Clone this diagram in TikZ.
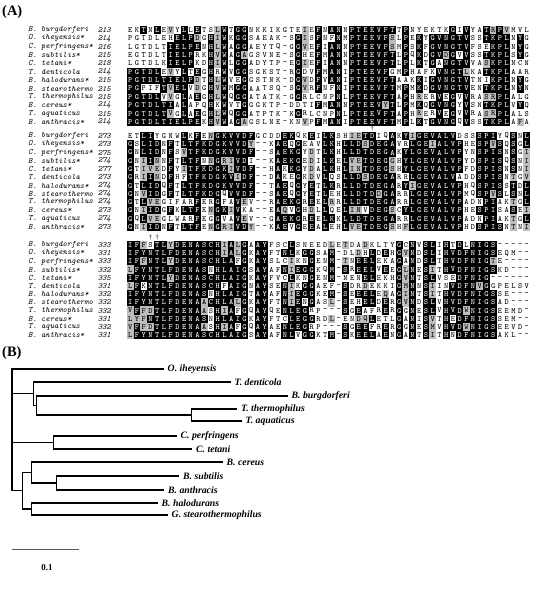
\documentclass[tikz,border=0pt]{standalone}
\usepackage{fontspec}
\setmainfont{Liberation Serif}
\usetikzlibrary{positioning}

\definecolor{boxgray}{gray}{0.74}

\newcommand\resfont{\ttfamily\fontsize{8}{8}\selectfont}
\newcommand\spfont{\ttfamily\itshape\fontsize{8.25}{8.25}\selectfont}
\newcommand\taxfont{\bfseries\itshape\fontsize{9.8}{9.8}\selectfont}
\newcommand\panelfont{\bfseries\fontsize{14.5}{14.5}\selectfont}

% one residue box: letter, shade code (K black, G gray, . none)
\newcount\rescol
\newcommand\rescell[2]{%
  \ifx K#2\node[resK] (\rowid-\the\rescol) at ({127+(\the\rescol-0.5)*6.72},\rowy) {#1};%
  \else\ifx G#2\node[resG] (\rowid-\the\rescol) at ({127+(\the\rescol-0.5)*6.72},\rowy) {#1};%
  \else\node[resW] (\rowid-\the\rescol) at ({127+(\the\rescol-0.5)*6.72},\rowy) {#1};%
  \fi\fi}
\def\seqwalk#1#2\relax#3#4\relax{%
  \advance\rescol by 1
  \rescell{#1}{#3}%
  \ifx\relax#2\relax\else\seqwalk#2\relax#4\relax\fi}
% id, row, species, first residue, residues, shading
\newcommand\alnrow[6]{%
  \def\rowid{#1}%
  \pgfmathsetmacro\rowy{\blocktop+#2*\rowgap}%
  \node[spname] (#1-sp) at (28,\rowy) {#3};
  \node[spnum] (#1-no) at (111,\rowy) {#4};
  \rescol=0
  \seqwalk#5\relax#6\relax}

\begin{document}
\begin{tikzpicture}[x=1bp,y=-1bp,
  spname/.style={anchor=west,inner sep=0pt,font=\spfont},
  spnum/.style={anchor=east,inner sep=0pt,font=\spfont},
  resW/.style={inner sep=0pt,minimum width=6.72bp,minimum height=8.3bp,font=\resfont},
  resK/.style={resW,fill=black,text=white,minimum width=6.95bp,minimum height=8.5bp},
  resG/.style={resW,fill=boxgray,minimum width=6.95bp,minimum height=8.5bp},
  sitemark/.style={anchor=south,inner sep=0pt,font=\fontsize{6.5}{6.5}\selectfont},
  panel/.style={anchor=west,inner sep=0pt,font=\panelfont},
  taxon/.style={anchor=west,inner xsep=4.5bp,inner ysep=1pt,font=\taxfont},
  branch/.style={line width=1.4bp,line cap=rect},
  scalebar/.style={line width=1bp,black!65}
]
\useasboundingbox (0,0) rectangle (536,589);

\node[panel] (panelA) at (2,12) {(A)};

% block 1
\def\blocktop{30}\def\rowgap{8.36}
\alnrow{a1}{0}{B. burgdorferi}{213}
 {EKTNLEVYLL ETSLWTGGNK KIKGTEIEFN ANNPTEEVFT TPNYEKTKGI VYATRPVMVL}
 {..K.K.G.K. K..GK.KK.. ......G.K. KK.KKKKKKK .K......K. K..KGKG...}
\alnrow{a2}{1}{O. iheyensis*}{214}
 {PGTDLEHELP DGHIWKGGSA EAK-SGISFN FNMPTEEVFS LPEKYGVNGT VSSTKPLNYG}
 {.......KKK G.KGK.KK.. .....KG.K. .K.KKKKKKG .K.K.KKKKK K..KKKK.K.}
\alnrow{a3}{2}{C. perfringens*}{216}
 {LGTDLTIELP ENHLWAGGAE YTQ-GGVEFI ANNPTEEVFS MPSKFGVNGT VFSEKPLNYG}
 {......KKKK K.KGK.KK.. .....KG.K. KK.KKKKKKG .K.K.KKKKK K...KKK.K.}
\alnrow{a4}{3}{B. subtilis*}{215}
 {EGTDLTIELP RKHVWAGAGS VNE-SGHEFM ANNPTEEVFT LPQKDGVDGV VSSTKPLSYG}
 {......KKKK ..KGK.KG.. .....K..K. KK.KKKKKKK .K.K.KKGK. K..KKKK.K.}
\alnrow{a5}{4}{C. tetani*}{218}
 {LGTDLKIELP KDHIWLGGAD YTP-EGIEFI ANNPTEEVFT LPLKTGANGT VVASKPLNCN}
 {......KKKK ..KGK.KK.. .....KG.K. KK.KKKKKKK .K.K.K.KKK K..GKKK...}
\alnrow{a6}{5}{T. denticola}{214}
 {PGTDLEVYLT EGHRWVGGSG KST-RGDVFM ANIPTEEVFG MPHAFKVNGT LKATKPLAAR}
 {KKKKK.G.K. K.K.K.KK.. .....K..K. KK.KKKKKK. .K....KKKK G..KKKK...}
\alnrow{a7}{6}{B. halodurans*}{215}
 {PGTDLTIELP DTHLWVEGGS TNK-DGVDFV ANIPTEEVFT AAKKIGVNGT VTNIKPLNYG}
 {KKKKKKKKKK G.KGK..K.. .....KG.K. KK.KKKKKKK ...K.KKKKK K...KKK.K.}
\alnrow{a8}{7}{B. stearothermo}{215}
 {PGPIFTVELV DGHVWMGGAA TSQ-SGVRFN FNIPTEEVFT MPMKDGVNGT VENTKPLNYN}
 {KK...KGKK. G.KGK.KK.. .....KG.K. .K.KKKKKKK .K.K.KKKKK K..KKKK.K.}
\alnrow{a9}{8}{T. thermophilus}{215}
 {PGTDLVVGLA EGHLWQGGAT ATK-GGRLCN PNLPTEEVFT APHRERVEGV VRASRPLALG}
 {KKKKK.G.K. K.KGK.KK.. .....K.... .K.KKKKKKK .K.G..K.K. K..GGKK...}
\alnrow{a10}{9}{B. cereus*}{214}
 {PGTDLTIALA PQHKWVTGGG KTP-DDTIFM ANNPTEEVYT LPMKQGVNGY VSNTKPLVYQ}
 {KKKKKKK.K. ..K.K..K.. ........K. KK.KKKKKGK .K.K.KKKK. K..KKKK.K.}
\alnrow{a11}{10}{T. aquaticus}{215}
 {PGTDLTVGLA EGHLWQGGAT PTK-KGRLCN PNLPTEEVFT APHRERVEGV VRASRPLALS}
 {KKKKKKG.K. K.KGK.KK.. .....K.... .K.KKKKKKK .K.G..K.K. K..GGKK...}
\alnrow{a12}{11}{B. anthracis*}{214}
 {PGTDLTIELP EKHVWAGAGS LNE-KNVPFM ANIPTEEVFT MPLKTGVNGQ VSSTKPLAFA}
 {KKKKKKKKKK K.KGK.KG.. ......G.K. KK.KKKKKKK .K.K.KKKK. K..KKKK.G.}

% block 2
\node[sitemark] (dag1) at (372.3,131.4) {†};
\def\blocktop{136}\def\rowgap{8.27}
\alnrow{b1}{0}{B. burgdorferi}{273}
 {ETLIYGNWLK FENGKVVDFG CDDEKQKEIL KSHIETDIQA KYIGEVALVD SSSPIYQSNL}
 {..KK....K. K.GKKKKKK. ...KK..K.K K..GGKK..K .KGKKKKKK. ..KKK..K.K}
\alnrow{b2}{1}{O. iheyensis*}{273}
 {GSLIDNFTLT FKDGKVVDY- -KAEQGEAVL KHLLDSDEGA VRLGEIALVP HESPVSQSGL}
 {K.KKK.K.KK KKKKKKKKG. ..KK.K...K K.KKKGKKKK ..KKKGKKKK ..KKGK.K.K}
\alnrow{b3}{2}{C. perfringens*}{275}
 {GNLIDNFSVT FKDGKVVDF- -SAEKGYDTL KHLLDTDEGA KYLGEVALVP YNSPISNSGI}
 {K.KKK.K.GK KKKKKKKKK. ..KKKK.G.K K.KKKKKKKK .KKKKKKKKK ..KKKK.K.G}
\alnrow{b4}{3}{B. subtilis*}{274}
 {GNIINNFTLT FNNGRIVDI- -KAEKGEDIL KELVETDEGG HYLGEVALVP YDSPISQSNI}
 {K.GKG.K.KK K.GKGGKK.. ..KKKK.G.K K.KGGKKKKG .KKKKKKKKK ..KKKK.K.G}
\alnrow{b5}{4}{C. tetani*}{277}
 {GTIVEDFYIT FKDGKIVDF- -HAKKGYDAL KHLINTDEGS HYLGEVALVP FDSPISNSNI}
 {K.GGG.K.GK KKKKKGKKK. ..K.KK.G.K K.KGGKKKKG .KKKKKKKKK ..KKKK.K.G}
\alnrow{b6}{5}{T. denticola}{273}
 {GRIINDFHFT FKDGKVIDF- -DAKEGKDVL QSLLDSDEGA RRLGEVALVA DDSPISNTGV}
 {K.GKG.K..K KKKKKKGKK. ..K..K.G.K ..KKKGKKKK ..KKKKKKK. ..KKKK.G.G}
\alnrow{b7}{6}{B. halodurans*}{274}
 {GTLIDQFTLT FKDGKVVDF- -TAEQGYETL KRLLDTDEGA RYIGEVALVP HQSPISSTDL}
 {K.KKK.K.KK KKKKKKKKK. ..KK.K.K.K K.KKKKKKKK .KGKKKKKKK ..KKKK.K.K}
\alnrow{b8}{7}{B. stearothermo}{274}
 {GNVIDGFTLT FKDGQVVDF- -SAEQGYETL EHLLDTDDGA RRLGEVALVP MQSPVSLSNL}
 {K.GKK.K.KK KKKK.KKKK. ..KK.K.K.K ..KKKKKGKK ..KKKKKKKK ..KKGK.K.K}
\alnrow{b9}{8}{T. thermophilus}{274}
 {GTLVEGIFAR FERGFAVEV- -RAEKGREEL RRLLDTDEGA RRLGEVALVP ADNPIAKTGL}
 {K.KGG..... K..K..KG.. ..KKKK.K.K G.KKKKKKKK ..KKKKKKKK ...KK..G.K}
\alnrow{b10}{9}{B. cereus*}{273}
 {GNIIDGFKLT FENGKIVKA- -EAQVGHDLL QELINVDEGS CYLGEVALVP HESPISASEI}
 {K.GKK.K.KK K.GKKGK... ..KG.K.G.K ..KGG.KKKG .KKKKKKKKK ..KKK..K.G}
\alnrow{b11}{10}{T. aquaticus}{274}
 {GQLVEGLWAR FEGGVAVEV- -GAEKGREEL KKLLDTDEGA RRLGEVALVP ADNPIAKTGL}
 {K.KGG..... K..K..KG.. ..KKKK.K.K K.KKKKKKKK ..KKKKKKKK ...KK..G.K}
\alnrow{b12}{11}{B. anthracis*}{273}
 {GNIIDNFTLT FENGRIVDY- -KAEVGEEAL EHLVETDEGS HFLGEVALVP HDSPISNTNI}
 {K.GKK.K.KK K.GKGGKKG. ..KK.K.K.K ..KGGKKKKG .GKKKKKKKK ..KKKK.G.G}

% block 3
\node[sitemark] (dag2) at (150.5,240.5) {†};
\node[sitemark] (dag3) at (157.2,240.5) {†};
\def\blocktop{245}\def\rowgap{8.2}
\alnrow{c1}{0}{B. burgdorferi}{333}
 {IFFSTLYDEN ASCHIALGAA YFSCLSNEED LETDADKLTY GCNVSLIHTD LNIGS-----}
 {KKG.KKGKKK KKKKGKGK.K K...K..... G.G..G.... K.K.KK.K.K .KKKK.....}
\alnrow{c2}{1}{O. iheyensis*}{331}
 {IFYNTLFDEN ASCHIALGKA YFTNLKGGSA M-DLDHLDEH GVNDSLIHVD FNIGSEQM--}
 {KKKKKKKKKK KKKKGKGK.K K..KK.KK.. K...G.K.K. KGK.KK.KKK KKKKK.....}
\alnrow{c3}{2}{C. perfringens*}{333}
 {IFFNTLYDEN ASCHLAFGKA YSLCIKNGEN M-TNEELEKA GANDSLTHVD FNIGTE----}
 {KKGKKKGKKK KKKKKK.K.K K...G..K.. K.G.KKK... K.K.KK.KKK KKKKG.....}
\alnrow{c4}{3}{B. subtilis*}{332}
 {LFYNTLFDEN ASNHLAIGSA YAFNIEGGKQ M-SREELVEE GLNESITHVD FNIGSKD---}
 {GKKKKKKKKK KK.KKKKK.K K..KGKKK.. K.K.KKK.K. KGK.KG.KKK KKKKK.....}
\alnrow{c5}{4}{C. tetani*}{335}
 {IFYNTLYDEN ASCHLAIGKA YFVCLKNGEN M-NENELEKH GVNTSLVSED FNIG------}
 {KKKKKKGKKK KKKKKKKK.K K...K..K.. K....KK... KGK.KK...K KKKK......}
\alnrow{c6}{5}{T. denticola}{331}
 {LFKNTLFDEN ASCHFAIGNA YSENIKGGAE F-SDRDEKKI GMNNSIINVD FNVGGPELSV}
 {GK.KKKKKKK KKKK.KKK.K K..KG.KK.. ..K..G.... KGK.KG..KK KKGK......}
\alnrow{c7}{6}{B. halodurans*}{332}
 {IFYNTLFDEN ASNHLAIGTA YAFNIEGGKE M-SEEELEQA GINTSITHVD FNIGSSE---}
 {KKKKKKKKKK KK.KKKKK.K K..KGKKK.. K.K.KKK.G. KGK.KG.KKK KKKKK.....}
\alnrow{c8}{7}{B. stearothermo}{332}
 {IFYNTLFDEN AACHLALGKA YFTNIENGAS L-SEHELDER GVNDSLVHVD FNIGSAD---}
 {KKKKKKKKKK KGKKKKGK.K K..KGK.K.. G.K..KK.K. KGK.KK.KKK KKKKK.....}
\alnrow{c9}{8}{T. thermophilus}{332}
 {VFFDTLFDEN AASHIAFGQA YQENLEGRP- --SGEAFRER GGNESLVHVD WNIGSEEMD-}
 {GKGGKKKKKK KG.KGK.K.K K..KKKK... ..K.K...K. K.K.KK.KKK GKKKK.....}
\alnrow{c10}{9}{B. cereus*}{331}
 {LYFNTLFDEN ASNHLAIGKA YFTCLEGGRD L-ENDQLETL GANISVTHED FNIGSSEM--}
 {GGGKKKKKKK KK.KKKKK.K K...KKKK.. G...GGK... K.K.KG.K.K KKKKK.....}
\alnrow{c11}{10}{T. aquaticus}{332}
 {VFFDTLFDEN AASHIAFGQA YAENLEGRP- --SGEEFRER GGNESMVHVD WNIGSEEVD-}
 {GKGGKKKKKK KG.KGK.K.K K..KKKK... ..K.KK..K. K.K.KG.KKK GKKKK.....}
\alnrow{c12}{11}{B. anthracis*}{331}
 {LFYNTLFDEN ASCHLAIGSA YAFNLVGGKT M-SKEELAEN GANTSITHND FNIGSAKL--}
 {GKKKKKKKKK KKKKKKKK.K K..KK.KK.. K.K.KKK.K. K.K.KG.K.K KKKKK.....}

% tree
\node[panel] (panelB) at (2,353) {(B)};
\node[taxon] (oih) at (163,369) {O. iheyensis};
\node[taxon] (tde) at (230,382) {T. denticola};
\node[taxon] (bbu) at (287,396) {B. burgdorferi};
\node[taxon] (tth) at (236.5,409) {T. thermophilus};
\node[taxon] (taq) at (241,421) {T. aquaticus};
\node[taxon] (cpe) at (176,436) {C. perfringens};
\node[taxon] (cte) at (191.5,449) {C. tetani};
\node[taxon] (bce) at (222,462) {B. cereus};
\node[taxon] (bsu) at (178.5,476) {B. subtilis};
\node[taxon] (ban) at (163.5,490) {B. anthracis};
\node[taxon] (bha) at (157,503) {B. halodurans};
\node[taxon] (gst) at (167,515) {G. stearothermophilus};

\coordinate (root) at (12,430);
\coordinate (nA) at (33.3,393.75);
\coordinate (nB) at (36.7,405.5);
\coordinate (nT) at (191.7,415);
\coordinate (nC) at (53.3,442.5);
\coordinate (nBac) at (22.7,490.75);
\coordinate (nB1) at (31.7,472.5);
\coordinate (nSA) at (56.7,483);
\coordinate (nB2) at (31.7,509);

\draw[branch] (root) |- (oih.west) (root) |- (nA) (root) |- (nC) (root) |- (nBac);
\draw[branch] (nA) |- (tde.west) (nA) |- (nB);
\draw[branch] (nB) |- (bbu.west) (nB) |- (nT);
\draw[branch] (nT) |- (tth.west) (nT) |- (taq.west);
\draw[branch] (nC) |- (cpe.west) (nC) |- (cte.west);
\draw[branch] (nBac) |- (nB1) (nBac) |- (nB2);
\draw[branch] (nB1) |- (bce.west) (nB1) |- (nSA);
\draw[branch] (nSA) |- (bsu.west) (nSA) |- (ban.west);
\draw[branch] (nB2) |- (bha.west) (nB2) |- (gst.west);

% scale
\coordinate (sb0) at (12,549);
\coordinate (sb1) at (79,549);
\draw[scalebar] (sb0) -- (sb1);
\node[font=\bfseries\fontsize{9}{9}\selectfont] (sblabel) at (47,568) {0.1};
\end{tikzpicture}
\end{document}
